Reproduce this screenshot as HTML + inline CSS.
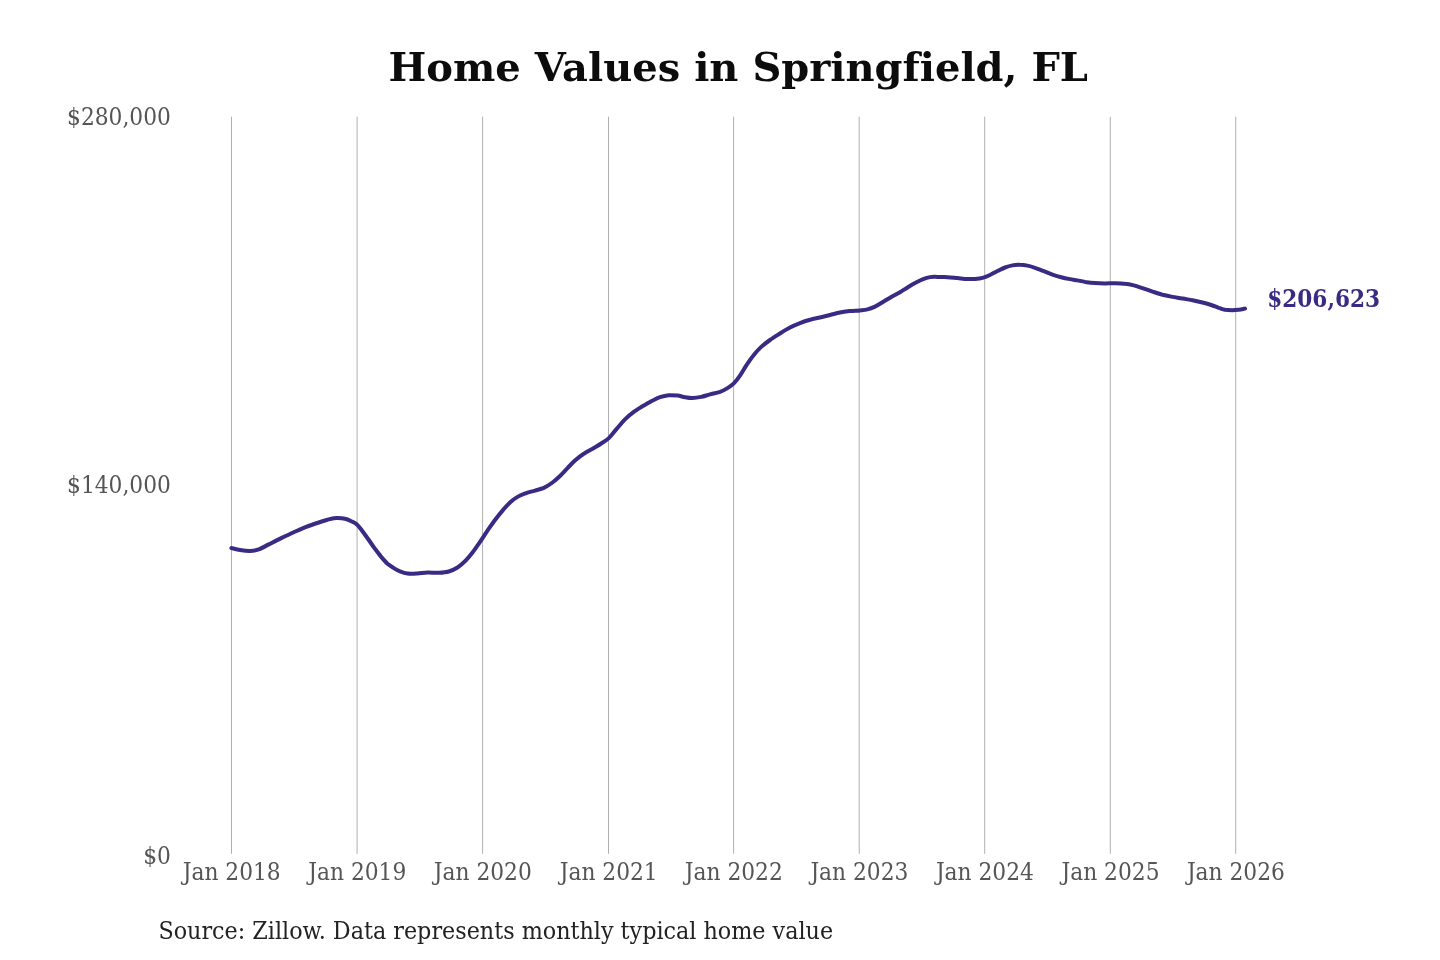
<!DOCTYPE html>
<html lang="en">
<head>
<meta charset="utf-8">
<title>Home Values in Springfield, FL</title>
<style>
  html, body { margin: 0; padding: 0; background: #ffffff; }
  body { width: 1440px; height: 960px; overflow: hidden; }
  svg { display: block; }
  svg text { font-family: "DejaVu Serif Condensed", "DejaVu Serif", "Liberation Serif", serif; font-variant-ligatures: none; }
  .title { font-family: "DejaVu Serif", "Liberation Serif", serif; font-weight: bold; font-size: 40px; fill: #0c0c0c; text-anchor: middle; }
  .grid line { stroke: #b0b0b0; stroke-width: 1; shape-rendering: auto; }
  .ylab text { font-size: 24.2px; fill: #555555; text-anchor: end; }
  .xlab text { font-size: 24.2px; fill: #555555; text-anchor: middle; }
  .series { fill: none; stroke: #382b84; stroke-width: 4; stroke-linecap: round; stroke-linejoin: round; }
  .endlab { font-weight: bold; font-size: 24px; fill: #382b84; }
  .source { font-size: 24.77px; fill: #222222; }
</style>
</head>
<body>
<svg width="1440" height="960" viewBox="0 0 1440 960">
  <rect x="0" y="0" width="1440" height="960" fill="#ffffff"/>
  <text class="title" x="738.25" y="81.1">Home Values in Springfield, FL</text>
  <g class="grid">
    <line x1="231.5" y1="116.7" x2="231.5" y2="853.8"/>
    <line x1="357.1" y1="116.7" x2="357.1" y2="853.8"/>
    <line x1="482.6" y1="116.7" x2="482.6" y2="853.8"/>
    <line x1="608.5" y1="116.7" x2="608.5" y2="853.8"/>
    <line x1="733.6" y1="116.7" x2="733.6" y2="853.8"/>
    <line x1="859.2" y1="116.7" x2="859.2" y2="853.8"/>
    <line x1="984.7" y1="116.7" x2="984.7" y2="853.8"/>
    <line x1="1110.3" y1="116.7" x2="1110.3" y2="853.8"/>
    <line x1="1235.7" y1="116.7" x2="1235.7" y2="853.8"/>
  </g>
  <g class="ylab">
    <text x="170.9" y="124.5">$280,000</text>
    <text x="170.9" y="493">$140,000</text>
    <text x="170.9" y="863.5">$0</text>
  </g>
  <g class="xlab">
    <text x="231.7" y="880">Jan 2018</text>
    <text x="357.3" y="880">Jan 2019</text>
    <text x="482.8" y="880">Jan 2020</text>
    <text x="608.7" y="880">Jan 2021</text>
    <text x="733.8000000000001" y="880">Jan 2022</text>
    <text x="859.4000000000001" y="880">Jan 2023</text>
    <text x="984.9000000000001" y="880">Jan 2024</text>
    <text x="1110.5" y="880">Jan 2025</text>
    <text x="1235.9" y="880">Jan 2026</text>
  </g>
  <path class="series" d="M231.4 548.0 C232.8 548.3 236.9 549.5 240.0 550.0 C243.1 550.5 246.9 551.1 250.0 551.0 C253.1 550.9 255.6 550.5 258.8 549.4 C261.9 548.3 265.0 546.3 268.8 544.4 C272.5 542.5 277.1 540.1 281.2 538.1 C285.4 536.1 289.6 534.1 293.8 532.2 C297.9 530.4 302.1 528.5 306.2 526.9 C310.4 525.3 314.6 523.9 318.8 522.5 C322.9 521.1 328.1 519.5 331.2 518.8 C334.4 518.0 335.2 518.1 337.5 518.1 C339.8 518.1 342.7 518.2 345.0 518.8 C347.3 519.3 349.3 520.3 351.2 521.2 C353.2 522.2 355.0 522.7 356.9 524.4 C358.8 526.1 360.5 528.6 362.5 531.2 C364.5 533.9 366.7 537.1 368.8 540.0 C370.8 542.9 372.9 545.9 375.0 548.8 C377.1 551.6 379.2 554.4 381.2 556.9 C383.3 559.4 385.4 561.9 387.5 563.8 C389.6 565.6 391.7 566.8 393.8 568.1 C395.8 569.4 397.7 570.5 400.0 571.4 C402.3 572.3 404.6 573.2 407.5 573.6 C410.4 574.0 414.2 573.7 417.5 573.5 C420.8 573.3 424.0 572.6 427.5 572.5 C431.0 572.4 435.2 572.9 438.8 572.8 C442.3 572.6 445.6 572.4 448.8 571.5 C451.9 570.6 454.8 569.2 457.5 567.5 C460.2 565.8 462.5 563.8 465.0 561.2 C467.5 558.8 470.0 555.7 472.5 552.5 C475.0 549.3 477.5 545.5 480.0 541.9 C482.5 538.2 485.0 534.2 487.5 530.6 C490.0 527.0 492.5 523.3 495.0 520.0 C497.5 516.7 500.0 513.5 502.5 510.6 C505.0 507.7 507.5 504.8 510.0 502.5 C512.5 500.2 514.8 498.5 517.5 496.9 C520.2 495.3 523.3 494.2 526.2 493.1 C529.2 492.1 532.1 491.5 535.0 490.6 C537.9 489.7 540.8 489.2 543.8 487.9 C546.7 486.5 549.8 484.5 552.5 482.5 C555.2 480.5 557.5 478.4 560.0 476.0 C562.5 473.6 565.0 470.7 567.5 468.1 C570.0 465.5 572.3 463.0 575.0 460.6 C577.7 458.2 580.8 455.7 583.8 453.8 C586.7 451.8 589.6 450.5 592.5 448.8 C595.4 447.0 598.5 445.3 601.2 443.5 C604.0 441.7 606.2 440.5 608.8 438.1 C611.2 435.8 613.5 432.5 616.2 429.4 C619.0 426.3 622.1 422.3 625.0 419.4 C627.9 416.5 630.8 414.1 633.8 411.9 C636.7 409.7 639.6 408.0 642.5 406.2 C645.4 404.5 648.3 402.8 651.2 401.2 C654.2 399.8 657.1 398.2 660.0 397.2 C662.9 396.2 665.8 395.5 668.8 395.2 C671.7 395.0 674.8 395.3 677.5 395.6 C680.2 395.9 682.5 396.8 685.0 397.2 C687.5 397.7 689.8 398.2 692.5 398.1 C695.2 398.0 698.3 397.5 701.2 396.9 C704.2 396.3 706.9 395.2 710.0 394.4 C713.1 393.6 717.1 392.9 720.0 391.9 C722.9 390.8 725.2 389.5 727.5 388.1 C729.8 386.7 731.7 385.5 733.8 383.4 C735.8 381.3 737.9 378.6 740.0 375.6 C742.1 372.6 744.0 369.0 746.2 365.6 C748.5 362.2 751.2 358.1 753.8 355.0 C756.2 351.9 758.5 349.4 761.2 346.9 C764.0 344.4 766.9 342.2 770.0 340.0 C773.1 337.8 776.7 335.6 780.0 333.5 C783.3 331.4 786.7 329.2 790.0 327.5 C793.3 325.8 796.7 324.4 800.0 323.1 C803.3 321.8 806.7 320.7 810.0 319.8 C813.3 318.8 816.7 318.3 820.0 317.5 C823.3 316.7 826.7 315.8 830.0 315.0 C833.3 314.2 836.7 313.2 840.0 312.5 C843.3 311.8 846.7 311.4 850.0 311.0 C853.3 310.6 857.1 310.7 860.0 310.4 C862.9 310.1 865.0 310.0 867.5 309.4 C870.0 308.8 872.5 307.8 875.0 306.6 C877.5 305.4 879.8 303.9 882.5 302.2 C885.2 300.6 888.3 298.6 891.2 296.9 C894.2 295.2 897.3 293.8 900.0 292.2 C902.7 290.6 905.0 289.0 907.5 287.5 C910.0 286.0 912.5 284.5 915.0 283.1 C917.5 281.8 920.0 280.4 922.5 279.4 C925.0 278.4 927.5 277.5 930.0 277.1 C932.5 276.7 934.6 276.9 937.5 276.9 C940.4 276.9 944.2 277.1 947.5 277.2 C950.8 277.4 954.2 277.8 957.5 278.1 C960.8 278.4 964.6 278.9 967.5 279.0 C970.4 279.1 972.5 279.2 975.0 279.0 C977.5 278.8 980.0 278.6 982.5 277.9 C985.0 277.2 987.5 276.1 990.0 275.0 C992.5 273.9 995.0 272.2 997.5 271.0 C1000.0 269.8 1002.5 268.4 1005.0 267.5 C1007.5 266.6 1010.0 265.9 1012.5 265.4 C1015.0 264.9 1017.5 264.7 1020.0 264.8 C1022.5 264.8 1025.0 265.1 1027.5 265.6 C1030.0 266.1 1032.3 266.8 1035.0 267.8 C1037.7 268.7 1040.8 270.1 1043.8 271.2 C1046.7 272.4 1049.6 273.6 1052.5 274.6 C1055.4 275.6 1058.3 276.5 1061.2 277.2 C1064.2 278.0 1067.3 278.6 1070.0 279.1 C1072.7 279.6 1075.0 279.9 1077.5 280.4 C1080.0 280.9 1082.1 281.4 1085.0 281.9 C1087.9 282.3 1091.7 282.8 1095.0 283.1 C1098.3 283.4 1101.7 283.5 1105.0 283.5 C1108.3 283.5 1111.7 283.2 1115.0 283.2 C1118.3 283.3 1121.9 283.4 1125.0 283.8 C1128.1 284.1 1130.8 284.7 1133.8 285.4 C1136.7 286.1 1139.4 287.1 1142.5 288.1 C1145.6 289.1 1149.2 290.5 1152.5 291.6 C1155.8 292.7 1159.2 293.9 1162.5 294.8 C1165.8 295.6 1169.2 296.3 1172.5 296.9 C1175.8 297.5 1179.2 297.9 1182.5 298.5 C1185.8 299.1 1189.2 299.6 1192.5 300.2 C1195.8 300.9 1199.4 301.7 1202.5 302.5 C1205.6 303.3 1208.5 304.1 1211.2 305.0 C1214.0 305.9 1216.5 307.0 1218.8 307.8 C1221.0 308.5 1222.7 309.3 1225.0 309.8 C1227.3 310.2 1230.2 310.2 1232.5 310.2 C1234.8 310.2 1236.7 310.0 1238.8 309.8 C1240.8 309.5 1244.0 308.8 1245.0 308.6"/>
  <text class="endlab" x="1267.3" y="306.9">$206,623</text>
  <text class="source" x="158.4" y="939.3">Source: Zillow. Data represents monthly typical home value</text>
</svg>
</body>
</html>
